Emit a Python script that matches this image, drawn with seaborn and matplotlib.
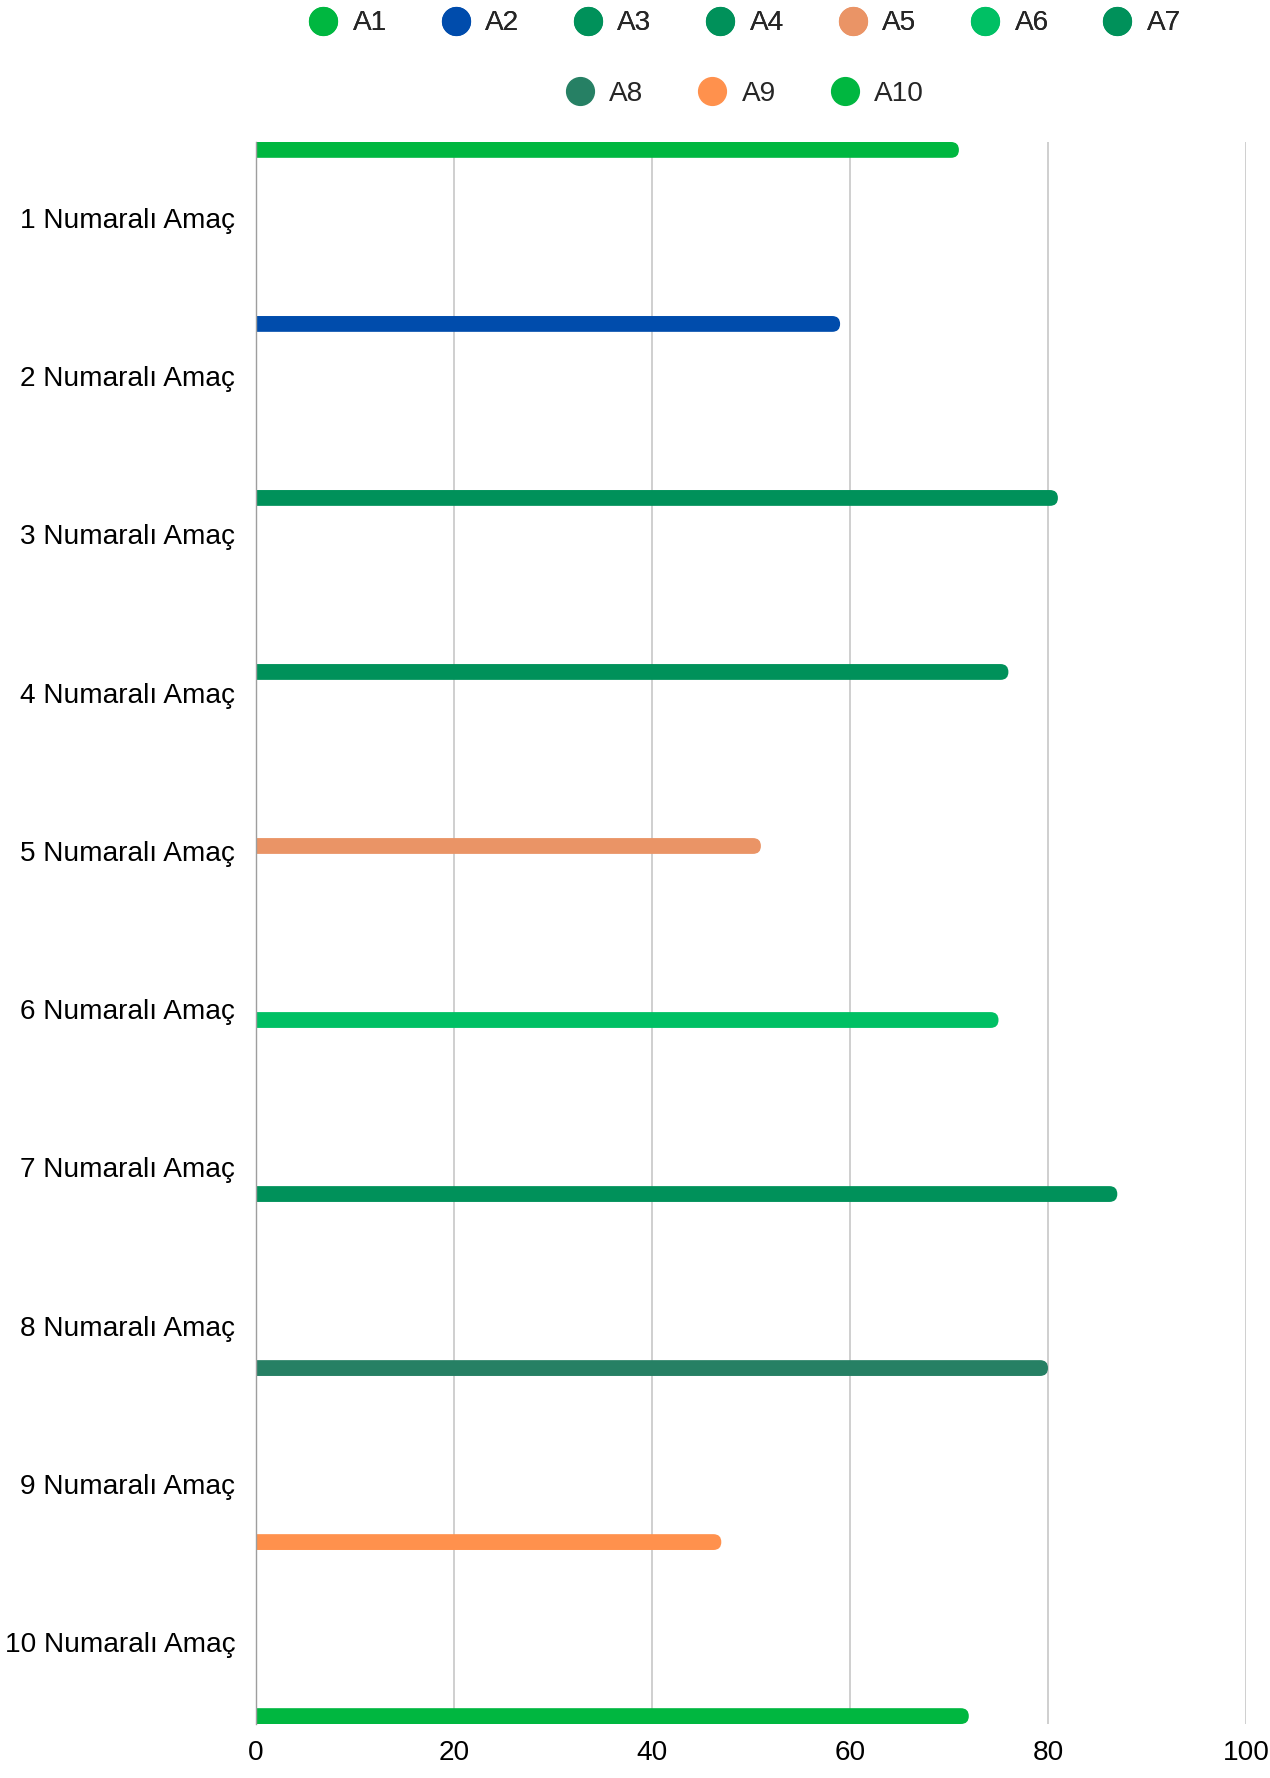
import matplotlib
matplotlib.use('Agg')
import matplotlib.pyplot as plt
import seaborn as sns
import pandas as pd
import numpy as np
from matplotlib.patches import FancyBboxPatch
from matplotlib.lines import Line2D

categories = [f"{i} Numaralı Amaç" for i in range(1, 11)]
series = ["A1", "A2", "A3", "A4", "A5", "A6", "A7", "A8", "A9", "A10"]
values = [71, 59, 81, 76, 51, 75, 87, 80, 47, 72]
colors = ["#00b740", "#004cac", "#00915a", "#00915a", "#ea9466",
          "#00c064", "#00915a", "#268064", "#ff914d", "#00b740"]
xticks = [0, 20, 40, 60, 80, 100]

df = pd.DataFrame({"category": categories, "series": series, "value": values})
palette = dict(zip(series, colors))

sns.set_style("white")
plt.rcParams["font.family"] = ["Liberation Sans", "DejaVu Sans"]

FS = 20.2

fig = plt.figure(figsize=(12.7, 17.78), dpi=100)
ax = fig.add_axes([256 / 1270, 54 / 1778, 990 / 1270, 1582 / 1778])

sns.barplot(data=df, x="value", y="category", hue="series", order=categories,
            hue_order=series, palette=palette, orient="h", width=1, dodge=True,
            errorbar=None, saturation=1, legend=False, ax=ax)

ax.set_xlim(0, 100)
ax.set_ylim(9.5, -0.5)
ax.set_xticks(xticks)
ax.set_xticklabels([str(t) for t in xticks])
ax.set_xlabel("")
ax.set_ylabel("")
ax.tick_params(axis="both", length=0, labelsize=FS, colors="#000000")
ax.tick_params(axis="y", pad=15)
ax.tick_params(axis="x", pad=11.5)
for lab in ax.get_yticklabels():
    lab.set_verticalalignment("center")
for s in ["top", "right", "bottom"]:
    ax.spines[s].set_visible(False)
ax.spines["left"].set_color("#9e9e9e")
ax.spines["left"].set_linewidth(1.0)
ax.xaxis.grid(True, color="#cccccc", linewidth=1.3)
ax.yaxis.grid(False)
ax.set_axisbelow(True)

# rounded right ends for bars
fig.canvas.draw()
bb = ax.get_window_extent()
xpp = 100 / bb.width
ypp = 10 / bb.height
m = ypp / xpp
for p in list(ax.patches):
    x0, y0, w, h = p.get_x(), p.get_y(), p.get_width(), p.get_height()
    if not np.isfinite(w) or w == 0:
        continue
    r = abs(h) / m / 2 * 0.999
    fc = p.get_facecolor()
    p.remove()
    fb = FancyBboxPatch((x0 - r, min(y0, y0 + h)), w + r, abs(h),
                        boxstyle=f"round,pad=0,rounding_size={r}",
                        mutation_aspect=m, facecolor=fc, edgecolor="none",
                        linewidth=0, zorder=2)
    ax.add_patch(fb)

def handles(names):
    return [Line2D([], [], linestyle="none", marker="o", markersize=20,
                   markerfacecolor=palette[n], markeredgecolor=palette[n])
            for n in names]

cx = ((256 + 1246) / 2 - 6) / 1270
row1 = series[:7]
row2 = series[7:]
common = dict(loc="center", frameon=False, fontsize=FS, handlelength=1.0,
              handletextpad=0.55, columnspacing=1.95, borderaxespad=0,
              borderpad=0)
leg1 = fig.legend(handles(row1), row1, ncol=7,
                  bbox_to_anchor=(cx, 1 - 23.5 / 1778), **common)
leg2 = fig.legend(handles(row2), row2, ncol=3,
                  bbox_to_anchor=(cx, 1 - 94 / 1778), **common)
fig.add_artist(leg1)

fig.savefig("out.png", dpi=100)
